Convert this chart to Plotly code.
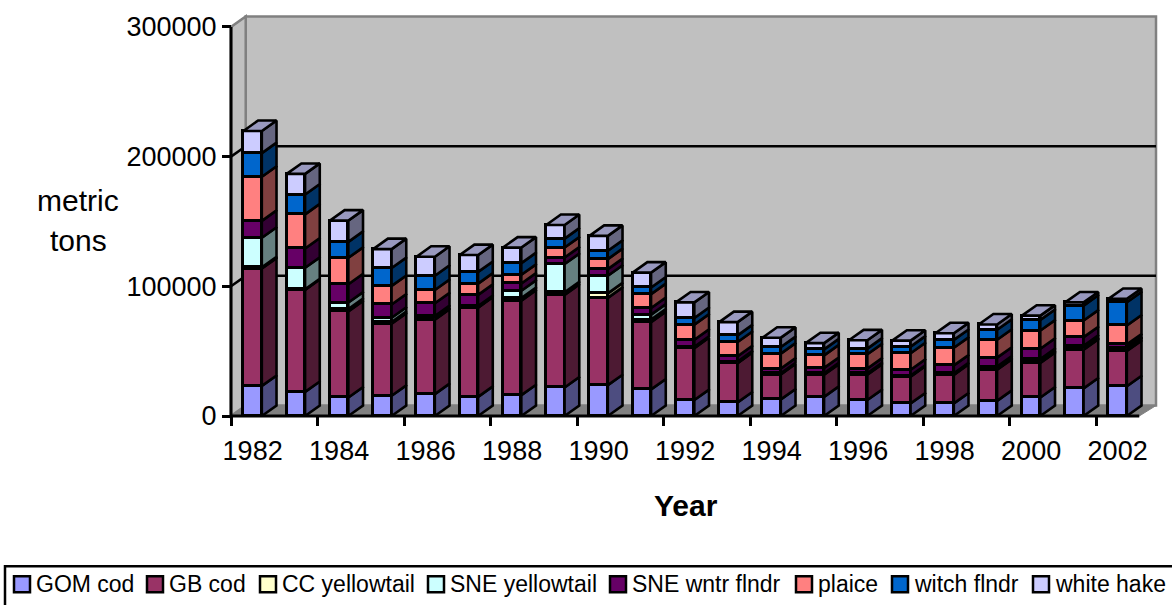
import plotly.graph_objects as go

# Annual landings by stock, metric tons
years = list(range(1982, 2003))
gom_cod = [23200, 18600, 14300, 15600, 16900, 14800, 16100, 22000, 23800, 20500, 12300, 10500, 12800, 14800, 12300, 9700, 9700, 11700, 14300, 21300, 23000]
gb_cod = [90500, 78600, 66400, 55600, 57400, 68700, 72900, 71400, 67300, 51900, 40000, 30300, 19200, 17000, 19500, 20600, 22000, 24000, 26600, 29800, 27100]
cc_yellowtail = [1000, 500, 1800, 1200, 800, 500, 2000, 2000, 3500, 2000, 400, 400, 400, 400, 400, 300, 400, 800, 1000, 1000, 1800]
sne_yellowtail = [22800, 16600, 5000, 3400, 2000, 800, 5600, 21800, 13600, 3800, 700, 800, 600, 800, 800, 500, 800, 1600, 2100, 2100, 800]
sne_wntr_flndr = [13000, 14900, 14100, 10200, 9800, 8600, 5600, 5000, 5100, 5100, 5400, 4100, 3600, 4100, 3600, 4600, 6100, 6900, 7900, 6600, 2500]
plaice = [34000, 26300, 20400, 14300, 10300, 8700, 6700, 7700, 7700, 10700, 11700, 11000, 11500, 9700, 11000, 12700, 13600, 13800, 14000, 12800, 14600]
witch_flndr = [18200, 15300, 12300, 13800, 11000, 9000, 9000, 6900, 6400, 5100, 5100, 5100, 5100, 4600, 4400, 5100, 6100, 7700, 8200, 11500, 17900]
white_hake = [17100, 15900, 16400, 14600, 14600, 13000, 12000, 10500, 11500, 11500, 12000, 10200, 7200, 4800, 6400, 4600, 5100, 4100, 3300, 2500, 2600]

series_names = ["GOM cod", "GB cod", "CC yellowtail", "SNE yellowtail", "SNE wntr flndr", "plaice", "witch flndr", "white hake"]
series_values = [gom_cod, gb_cod, cc_yellowtail, sne_yellowtail, sne_wntr_flndr, plaice, witch_flndr, white_hake]
front_colors = ["#9999FF", "#993366", "#FFFFCC", "#CCFFFF", "#660066", "#FF8080", "#0066CC", "#CCCCFF"]
side_colors = ["#4D4D80", "#4D1A33", "#808066", "#668080", "#330033", "#804040", "#003366", "#666680"]
top_color = "#9999BF"
y_ticks = [0, 100000, 200000, 300000]
x_label_years = years[::2]

# Page geometry, pixels
FIG_W, FIG_H = 1172, 605
PLOT_L, PLOT_R, PLOT_T, PLOT_B = 228, 1159, 12, 419
AXIS_X, AXIS_Y = 231, 416
PX_PER_YEAR = 43.25
PX_PER_TON = 391 / 300000

# Oblique projection of the box depth
DEPTH_PX_X, DEPTH_PX_Y = 14.7, 10.5
dx = DEPTH_PX_X / PX_PER_YEAR
dy = DEPTH_PX_Y / PX_PER_TON
BAR_W = 0.425
EDGE = 2.6

x0 = years[0] - 0.5
x_end = x0 + len(years)
x_back_right = x0 + 925 / PX_PER_YEAR
y_max = y_ticks[-1]

x_range = [x0 - (AXIS_X - PLOT_L) / PX_PER_YEAR, x0 + (PLOT_R - AXIS_X) / PX_PER_YEAR]
y_range = [-(PLOT_B - AXIS_Y) / PX_PER_TON, (AXIS_Y - PLOT_T) / PX_PER_TON]

def paper_x(px):
    return (px - PLOT_L) / (PLOT_R - PLOT_L)

def paper_y(py):
    return (PLOT_B - py) / (PLOT_B - PLOT_T)

FONT = "Liberation Sans"
GRAY = "#808080"
WALL = "#C0C0C0"

fig = go.Figure()

# Front faces
for name, values, color in zip(series_names, series_values, front_colors):
    fig.add_bar(
        x=years, y=values, name=name, width=BAR_W, showlegend=False,
        marker=dict(color=color, line=dict(color="black", width=EDGE)),
    )

# Right-hand faces, one closed polygon per stacked segment
base = [0] * len(years)
for values, color in zip(series_values, side_colors):
    xs, ys = [], []
    for i, yr in enumerate(years):
        lo, hi = base[i], base[i] + values[i]
        xr = yr + BAR_W / 2
        xs += [xr, xr + dx, xr + dx, xr, xr, None]
        ys += [lo, lo + dy, hi + dy, hi, lo, None]
        base[i] = hi
    fig.add_scatter(x=xs, y=ys, mode="lines", fill="toself", fillcolor=color,
                    line=dict(color="black", width=EDGE), hoverinfo="skip", showlegend=False)

# Top faces
xs, ys = [], []
for yr, total in zip(years, base):
    xl, xr = yr - BAR_W / 2, yr + BAR_W / 2
    xs += [xl, xr, xr + dx, xl + dx, xl, None]
    ys += [total, total, total + dy, total + dy, total, None]
fig.add_scatter(x=xs, y=ys, mode="lines", fill="toself", fillcolor=top_color,
                line=dict(color="black", width=EDGE), hoverinfo="skip", showlegend=False)

shapes = []

def polygon(points, fill, line_color, width=2):
    path = "M" + " L".join(f"{x},{y}" for x, y in points) + " Z"
    return dict(type="path", path=path, xref="x", yref="y", fillcolor=fill,
                line=dict(color=line_color, width=width), layer="below")

def segment(x1, y1, x2, y2, color, width=2.5):
    return dict(type="line", x0=x1, y0=y1, x1=x2, y1=y2, xref="x", yref="y",
                line=dict(color=color, width=width), layer="below")

# Box walls and floor
shapes.append(polygon([(x0 + dx, dy), (x_back_right, dy), (x_back_right, y_max + dy), (x0 + dx, y_max + dy)], WALL, GRAY, 2.5))
shapes.append(polygon([(x0, 0), (x0 + dx, dy), (x0 + dx, y_max + dy), (x0, y_max)], WALL, GRAY, 2.5))
shapes.append(polygon([(x0, 0), (x_end, 0), (x_back_right, dy), (x0 + dx, dy)], GRAY, GRAY, 1))

# Gridlines on the back and side walls
for v in y_ticks[1:-1]:
    shapes.append(segment(x0 + dx, v + dy, x_back_right, v + dy, "black"))
    shapes.append(segment(x0, v, x0 + dx, v + dy, "black"))

# Front axis lines
shapes.append(segment(x0, 0, x0, y_max, "black", 3))
shapes.append(segment(x0, 0, x_end, 0, "black", 3))

# Legend frame and swatches
shapes.append(dict(type="rect", xref="paper", yref="paper",
                   x0=paper_x(5), x1=paper_x(1175), y0=paper_y(567), y1=paper_y(608),
                   line=dict(color="black", width=2.5), fillcolor="white", layer="below"))

legend_swatch_left = [14, 147, 260, 428, 610, 796, 892, 1033]
annotations = []
for name, color, left in zip(series_names, front_colors, legend_swatch_left):
    shapes.append(dict(type="rect", xref="paper", yref="paper",
                       x0=paper_x(left), x1=paper_x(left + 16), y0=paper_y(577), y1=paper_y(593),
                       line=dict(color="black", width=2.5), fillcolor=color, layer="above"))
    annotations.append(dict(text=name, xref="paper", yref="paper", x=paper_x(left + 20), y=paper_y(585),
                            xanchor="left", yanchor="middle", showarrow=False,
                            font=dict(family=FONT, size=23, color="black")))

# Axis captions
for caption, py in [("metric", 199), ("tons", 240)]:
    annotations.append(dict(text=caption, xref="paper", yref="paper", x=paper_x(78), y=paper_y(py),
                            xanchor="center", yanchor="middle", showarrow=False,
                            font=dict(family=FONT, size=30, color="black")))
annotations.append(dict(text="<b>Year</b>", xref="paper", yref="paper", x=paper_x(686), y=paper_y(506),
                        xanchor="center", yanchor="middle", showarrow=False,
                        font=dict(family=FONT, size=30, color="black")))

fig.update_layout(
    width=FIG_W, height=FIG_H,
    margin=dict(l=PLOT_L, r=FIG_W - PLOT_R, t=PLOT_T, b=FIG_H - PLOT_B, pad=0),
    barmode="stack", bargap=0,
    paper_bgcolor="white", plot_bgcolor="white",
    showlegend=False, shapes=shapes, annotations=annotations,
    xaxis=dict(
        range=x_range, anchor="free", position=(PLOT_B - AXIS_Y) / (PLOT_B - PLOT_T),
        tickmode="array", tickvals=x_label_years, ticktext=[str(y) for y in x_label_years],
        ticks="", showgrid=False, zeroline=False, showline=False, ticklabelstandoff=16,
        tickfont=dict(family=FONT, size=27, color="black"),
        minor=dict(tickmode="array", tickvals=[y - 0.5 for y in x_label_years],
                   ticks="outside", ticklen=9, tickwidth=2.5, tickcolor="black", showgrid=False),
    ),
    yaxis=dict(
        range=y_range, anchor="free", position=(AXIS_X - PLOT_L) / (PLOT_R - PLOT_L),
        tickmode="array", tickvals=y_ticks, ticks="outside", ticklen=9, tickwidth=2.5, tickcolor="black",
        showgrid=False, zeroline=False, showline=False, tickformat="d",
        tickfont=dict(family=FONT, size=27, color="black"),
    ),
)

fig.write_html("out.html")
